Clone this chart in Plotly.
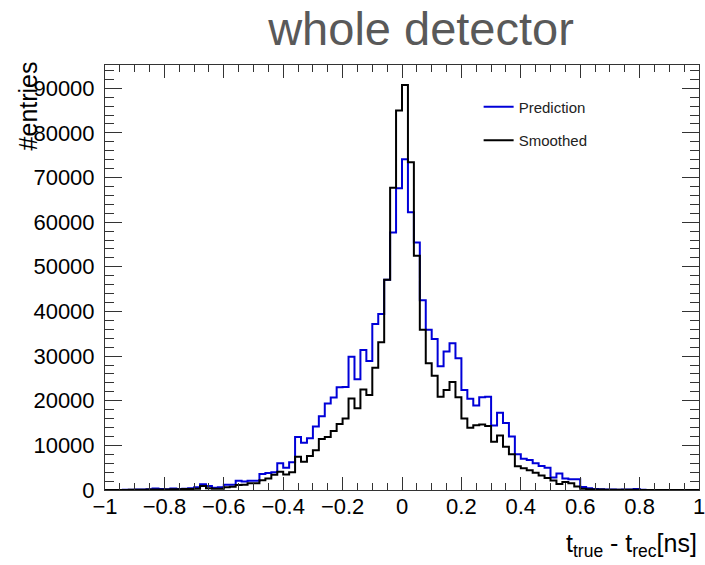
import numpy as np
import plotly.graph_objects as go

# ---- data -------------------------------------------------------------
bin_low = -1.0
bin_high = 1.0
n_bins = 100

prediction = [
    0, 0, 0, 50, 50, 100, 100, 150, 350, 200,
    150, 350, 250, 300, 400, 600, 1300, 900, 500, 600,
    1200, 1200, 2100, 1900, 2100, 2100, 3600, 3800, 4000, 6000,
    5000, 6200, 11900, 10600, 11600, 14200, 16500, 19400, 20700, 23000,
    23100, 29850, 24800, 31350, 28900, 37200, 39400, 47100, 57700, 67600,
    74100, 62200, 55450, 42500, 35900, 33850, 27700, 31000, 32900, 29500,
    22400, 20450, 18950, 20800, 20900, 14450, 17300, 15000, 12000, 8000,
    7000, 6700, 6000, 5400, 5000, 2800, 3700, 2600, 2400, 2400,
    700, 400, 200, 150, 100, 100, 50, 100, 100, 250,
    50, 0, 0, 0, 0, 0, 0, 0, 0, 0,
]

smoothed = [
    0, 0, 0, 0, 50, 50, 50, 100, 100, 100,
    100, 150, 150, 200, 250, 300, 900, 400, 300, 300,
    600, 750, 1100, 1200, 1500, 1500, 2200, 2600, 3400, 4100,
    3500, 4000, 7460, 6340, 7600, 8900, 11400, 11900, 13200, 14800,
    16000, 20500, 18300, 22500, 21300, 27400, 33100, 47100, 67700, 85000,
    90700, 73400, 52500, 35900, 28400, 25600, 20900, 22400, 24200, 20800,
    16000, 13950, 14500, 14700, 14350, 10800, 12200, 9700, 8000, 5300,
    4850, 4400, 3850, 3250, 2700, 2150, 1340, 1800, 1500, 800,
    300, 150, 100, 100, 50, 50, 50, 50, 50, 50,
    0, 0, 0, 0, 0, 0, 0, 0, 0, 0,
]

x_ticks = [-1, -0.8, -0.6, -0.4, -0.2, 0, 0.2, 0.4, 0.6, 0.8, 1]
x_tick_labels = ["\u22121", "\u22120.8", "\u22120.6", "\u22120.4", "\u22120.2",
                 "0", "0.2", "0.4", "0.6", "0.8", "1"]
y_ticks = [0, 10000, 20000, 30000, 40000, 50000, 60000, 70000, 80000, 90000]
y_tick_labels = [str(v) for v in y_ticks]

# ---- build step outlines ---------------------------------------------
edges = np.linspace(bin_low, bin_high, n_bins + 1)


def step_xy(counts):
    xs = [edges[0]] + list(edges[:-1]) + [edges[-1], edges[-1]]
    ys = [0] + list(counts) + [counts[-1], 0]
    return xs, ys


FONT = "Liberation Sans Narrow, Liberation Sans, Arial, sans-serif"

fig = go.Figure()
px_, py_ = step_xy(prediction)
sx_, sy_ = step_xy(smoothed)
fig.add_trace(go.Scatter(x=px_, y=py_, mode="lines", line_shape="hv",
                         line=dict(color="#0000d8", width=2),
                         name="Prediction", legendgroup="a"))
fig.add_trace(go.Scatter(x=sx_, y=sy_, mode="lines", line_shape="hv",
                         line=dict(color="#000000", width=2),
                         name="Smoothed", legendgroup="b"))

axis_common = dict(
    showline=True, linecolor="#333333", linewidth=1, mirror="allticks",
    ticks="inside", tickcolor="#333333", showgrid=False, zeroline=False,
    tickfont=dict(family=FONT, size=22, color="#000000"),
    ticklabeloverflow="allow", automargin=False,
)

fig.update_xaxes(
    range=[bin_low, bin_high], tickvals=x_ticks, ticktext=x_tick_labels,
    ticklen=13, ticklabelstandoff=-3,
    minor=dict(dtick=0.05, ticklen=7, ticks="inside", tickcolor="#333333",
               showgrid=False),
    **axis_common,
)
fig.update_yaxes(
    range=[0, 95200], tickvals=y_ticks, ticktext=y_tick_labels,
    ticklen=17, ticklabelstandoff=5,
    minor=dict(dtick=2000, ticklen=9, ticks="inside", tickcolor="#333333",
               showgrid=False),
    **axis_common,
)

fig.add_annotation(text="#entries", textangle=-90, xref="paper", yref="paper",
                   x=-0.1296, y=1.012, xanchor="center", yanchor="top",
                   showarrow=False, font=dict(family=FONT, size=25, color="#000"))
fig.add_annotation(text="t<sub>true</sub> - t<sub>rec</sub>[ns]",
                   xref="paper", yref="paper", x=1.0, y=-0.13,
                   xanchor="right", yanchor="middle", showarrow=False,
                   font=dict(family=FONT, size=25, color="#000"))

fig.update_layout(
    width=705, height=565,
    margin=dict(l=105, r=6, t=65, b=75),
    paper_bgcolor="white", plot_bgcolor="white",
    title=dict(text="whole detector", x=421 / 705, xanchor="center",
               y=1 - 29 / 565, yanchor="middle",
               font=dict(family="Liberation Sans, Arial, sans-serif",
                         size=47, color="#595959")),
    legend=dict(x=0.629, y=0.94, xanchor="left", yanchor="top",
                bgcolor="rgba(0,0,0,0)", borderwidth=0,
                font=dict(family=FONT, size=15, color="#222"),
                tracegroupgap=11, traceorder="grouped"),
    showlegend=True,
)

fig.write_html("out.html", config={"displayModeBar": False},
               post_script="document.body.style.margin='0px';")
